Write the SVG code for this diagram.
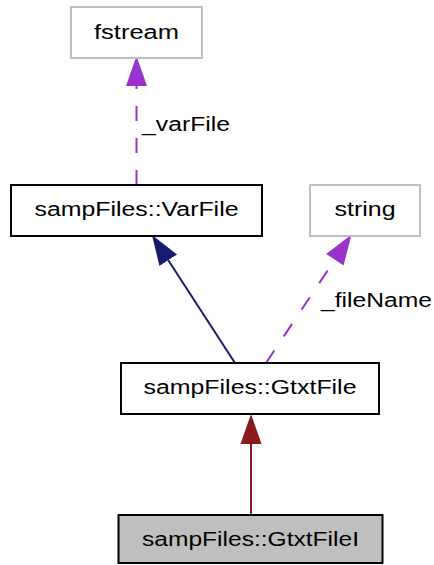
<svg xmlns="http://www.w3.org/2000/svg" width="434" height="565" viewBox="0 0 434 565">
  <style>
    text { font-family: "Liberation Sans", Arial, sans-serif; font-size: 20px; fill: #000; }
    .box { fill: #fff; stroke: #000; stroke-width: 2; }
    .ext { fill: #fff; stroke: #bfbfbf; stroke-width: 2; }
    .self { fill: #bfbfbf; stroke: #000; stroke-width: 2; }
    .edge { fill: none; stroke-width: 2; }
    .use { stroke: #9a32cd; stroke-dasharray: 15 17; }
    .inh { stroke: #191970; }
    .inh2 { stroke: #8b1a1a; }
  </style>
  <defs>
    <marker id="ah-use" markerUnits="userSpaceOnUse" viewBox="0 -11 30 22" refX="0" refY="0" markerWidth="30" markerHeight="22" orient="auto">
      <path d="M0,-10.5 L30,0 L0,10.5 z" fill="#9a32cd"/>
    </marker>
    <marker id="ah-inh" markerUnits="userSpaceOnUse" viewBox="0 -11 30 22" refX="0" refY="0" markerWidth="30" markerHeight="22" orient="auto">
      <path d="M0,-10.5 L30,0 L0,10.5 z" fill="#191970"/>
    </marker>
    <marker id="ah-inh2" markerUnits="userSpaceOnUse" viewBox="0 -11 30 22" refX="0" refY="0" markerWidth="30" markerHeight="22" orient="auto">
      <path d="M0,-10.5 L30,0 L0,10.5 z" fill="#8b1a1a"/>
    </marker>
  </defs>

  <!-- connectors -->
  <g id="edges">
    <path class="edge use" d="M136.5,185 L136.5,86" marker-end="url(#ah-use)"/>
    <text x="142" y="131" textLength="88" lengthAdjust="spacingAndGlyphs">_varFile</text>
    <path class="edge inh" d="M235,363 L168.3,260.2" marker-end="url(#ah-inh)"/>
    <path class="edge use" d="M266,363 L334.8,259.8" marker-end="url(#ah-use)"/>
    <text x="321" y="307" textLength="111" lengthAdjust="spacingAndGlyphs">_fileName</text>
    <path class="edge inh2" d="M251,515 L251,444" marker-end="url(#ah-inh2)"/>
  </g>

  <g id="node-fstream">
    <rect class="ext" x="71" y="7" width="131" height="51"/>
    <text x="136.5" y="39" text-anchor="middle" textLength="85" lengthAdjust="spacingAndGlyphs">fstream</text>
  </g>
  <g id="node-varfile">
    <rect class="box" x="11" y="185" width="251" height="51"/>
    <text x="136.5" y="216" text-anchor="middle" textLength="204" lengthAdjust="spacingAndGlyphs">sampFiles::VarFile</text>
  </g>
  <g id="node-string">
    <rect class="ext" x="310" y="185" width="110" height="51"/>
    <text x="365" y="216" text-anchor="middle" textLength="61" lengthAdjust="spacingAndGlyphs">string</text>
  </g>
  <g id="node-gtxtfile">
    <rect class="box" x="121" y="363" width="258" height="51"/>
    <text x="250" y="394" text-anchor="middle" textLength="213" lengthAdjust="spacingAndGlyphs">sampFiles::GtxtFile</text>
  </g>
  <g id="node-gtxtfilei">
    <rect class="self" x="118.5" y="515" width="264" height="48"/>
    <text x="250.5" y="546" text-anchor="middle" textLength="217" lengthAdjust="spacingAndGlyphs">sampFiles::GtxtFileI</text>
  </g>
</svg>
